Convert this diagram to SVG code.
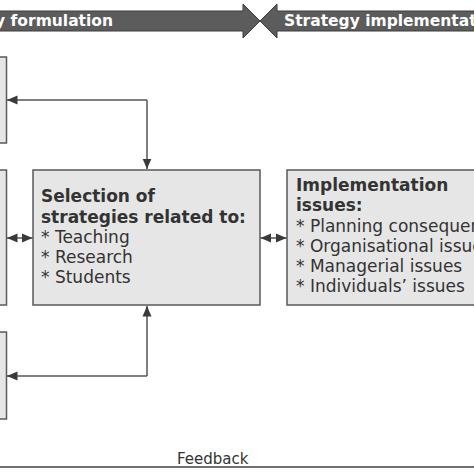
<svg xmlns="http://www.w3.org/2000/svg" width="474" height="474" viewBox="0 0 474 474">
<defs>
<style>
.box{fill:#e6e6e6;stroke:#5a5a5a;stroke-width:1.5}
.conn{fill:none;stroke:#555;stroke-width:1.5}
.banner{fill:#5c5c5c;stroke:#3c3c3c;stroke-width:1}
.bt{font-family:"DejaVu Sans",Verdana,sans-serif;font-weight:bold;font-size:15.5px;fill:#fff}
.h{font-family:"DejaVu Sans",Verdana,sans-serif;font-weight:bold;font-size:17px;fill:#333}
.t{font-family:"DejaVu Sans",Verdana,sans-serif;font-size:17px;fill:#333}
.fb{font-family:"DejaVu Sans",Verdana,sans-serif;font-size:15px;fill:#333}
</style>
<marker id="ah" markerUnits="userSpaceOnUse" markerWidth="11" markerHeight="10" viewBox="0 0 11 10" refX="10.5" refY="5" orient="auto-start-reverse">
<path d="M0,0.5 L10.5,5 L0,9.5 Z" fill="#3a3a3a"/>
</marker>
</defs>
<g id="banner">
<path class="banner" d="M-5,11 H243 V4 L260,21 L243,38 V31 H-5 Z"/>
<path class="banner" d="M480,11 H277 V4 L260,21 L277,38 V31 H480 Z"/>
<text class="bt" x="113" y="26" text-anchor="end">Strategy formulation</text>
<text class="bt" x="284" y="26">Strategy implementation</text>
</g>
<g id="node-left-top"><rect class="box" x="-10" y="57" width="16.5" height="86"/></g>
<g id="node-left-mid"><rect class="box" x="-10" y="170" width="16.5" height="135"/></g>
<g id="node-left-bottom"><rect class="box" x="-10" y="332" width="16.5" height="87"/></g>
<g id="node-selection">
<rect class="box" x="33" y="170" width="227" height="135"/>
<text class="h" x="41" y="202">Selection of</text>
<text class="h" x="41" y="222.5">strategies related to:</text>
<text class="t" x="41" y="243">* Teaching</text>
<text class="t" x="41" y="263">* Research</text>
<text class="t" x="41" y="283">* Students</text>
</g>
<g id="node-implementation">
<rect class="box" x="287" y="170" width="200" height="135"/>
<text class="h" x="296" y="191">Implementation</text>
<text class="h" x="296" y="211">issues:</text>
<text class="t" x="296" y="232">* Planning consequences</text>
<text class="t" x="296" y="252">* Organisational issues</text>
<text class="t" x="296" y="272">* Managerial issues</text>
<text class="t" x="296" y="292">* Individuals’ issues</text>
</g>
<g id="connectors">
<path class="conn" d="M147,100 V169" marker-end="url(#ah)"/>
<path class="conn" d="M147,100 H7" marker-end="url(#ah)"/>
<path class="conn" d="M147,376 V306" marker-end="url(#ah)"/>
<path class="conn" d="M147,376 H7" marker-end="url(#ah)"/>
<path class="conn" d="M7,238 H32.5" marker-start="url(#ah)" marker-end="url(#ah)"/>
<path class="conn" d="M260.5,238 H286.5" marker-start="url(#ah)" marker-end="url(#ah)"/>
<path d="M0,467 H474" fill="none" stroke="#707070" stroke-width="2"/>
</g>
<text class="fb" x="177" y="464">Feedback</text>
</svg>
